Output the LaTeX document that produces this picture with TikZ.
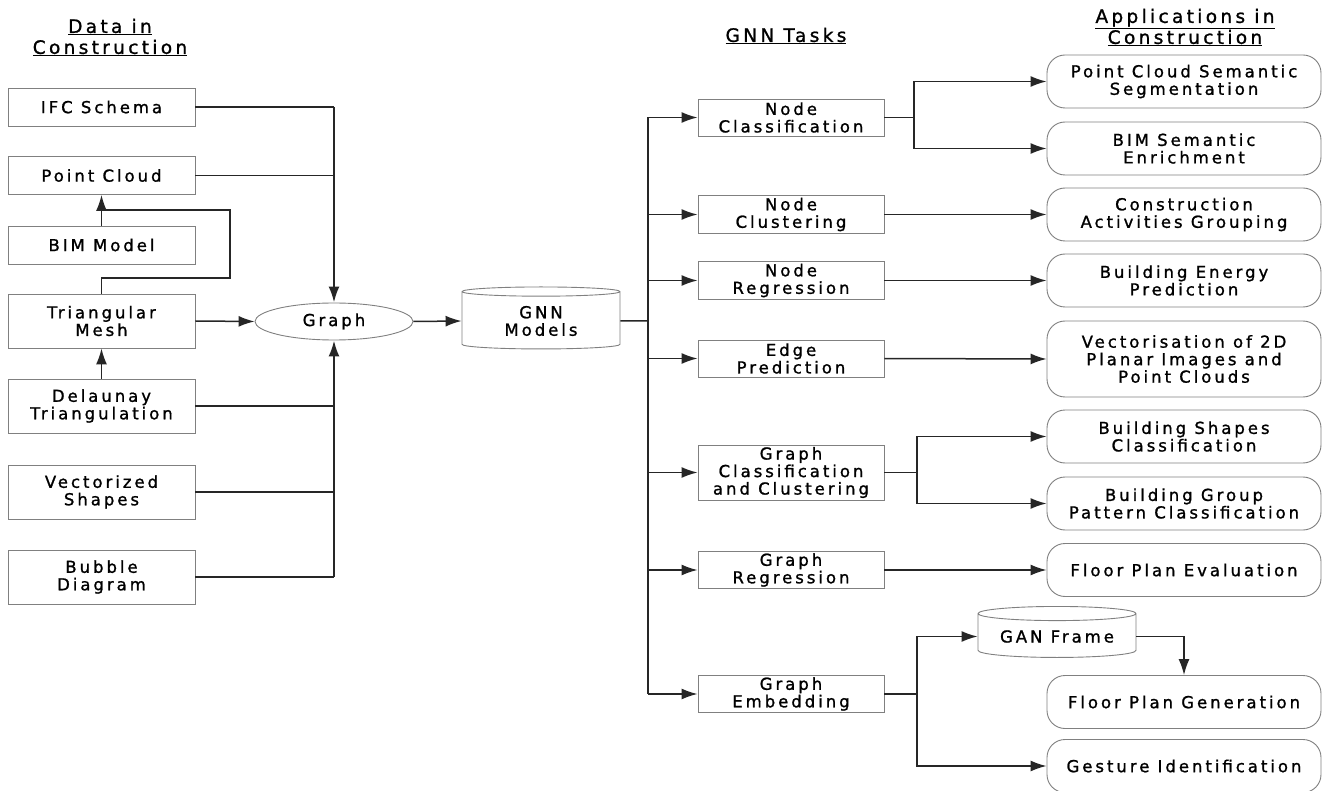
\documentclass[tikz,border=0pt]{standalone}
\usepackage{fontspec}
\setmainfont{DejaVu Sans}[LetterSpace=18,FakeBold=1.2]
\usetikzlibrary{arrows.meta}
\usetikzlibrary{shapes.geometric}

\tikzset{
    every node/.style={font=\fontsize{16.5}{17.5}\selectfont, align=center, inner sep=2pt},
    databox/.style={draw=black!50, line width=0.9pt, minimum width=187pt, minimum height=38pt},
    databoxtall/.style={databox, minimum height=54pt},
    taskbox/.style={draw=black!50, line width=0.9pt, minimum width=186pt, minimum height=37pt},
    appbox/.style={draw=black!50, line width=0.9pt, rounded corners=18pt, minimum width=274pt, minimum height=53pt},
    dbnode/.style={draw=black!50, line width=0.9pt, cylinder, shape border rotate=90, aspect=0.12, minimum width=158pt},
    graphnode/.style={draw=black!50, line width=0.9pt, ellipse, minimum width=158pt, minimum height=37pt, inner sep=0pt},
    titletext/.style={font=\fontsize{18.5}{21}\selectfont},
    link/.style={draw=black!85, line width=1.5pt},
    buslink/.style={link, line width=2.2pt},
    arrowlink/.style={link, -{Latex[length=16pt,width=11pt]}}
}

\begin{document}
\begin{tikzpicture}[x=1pt,y=-1pt]
    \useasboundingbox[fill=white] (0,0) rectangle (1325,791);

    % Column titles
    \node[titletext] (datatitle) at (110,37.5) {\underline{Data in}\\\underline{Construction}};
    \node[titletext] (tasktitle) at (786,36) {\underline{GNN Tasks}};
    \node[titletext] (apptitle)  at (1185,27.5) {\underline{Applications in}\\\underline{Construction}};

    % Data in construction
    \node[databox] (ifc) at (101.5,107) {IFC Schema};
    \node[databox] (pc)  at (101.5,175.5) {Point Cloud};
    \node[databox] (bim) at (101.5,245) {BIM Model};
    \node[databoxtall] (mesh) at (101.5,321) {Triangular\\Mesh};
    \node[databoxtall] (del)  at (101.5,406) {Delaunay\\Triangulation};
    \node[databoxtall] (vec)  at (101.5,492) {Vectorized\\Shapes};
    \node[databoxtall] (bub)  at (101.5,577) {Bubble\\Diagram};

    % Graph and models
    \node[graphnode] (graph) at (334,321.5) {Graph};
    \node[dbnode, minimum height=62pt] (gnn) at (541,321) {GNN\\Models};

    % GNN tasks
    \node[taskbox] (nc)  at (791,117.5) {Node\\Classification};
    \node[taskbox] (ncl) at (791,214.5) {Node\\Clustering};
    \node[taskbox] (nr)  at (791,280.5) {Node\\Regression};
    \node[taskbox] (ep)  at (791,358.5) {Edge\\Prediction};
    \node[taskbox, minimum height=53pt] (gcc) at (791,472.5) {Graph\\Classification\\and Clustering};
    \node[taskbox] (gr)  at (791,570) {Graph\\Regression};
    \node[taskbox] (ge)  at (791,694) {Graph\\Embedding};

    % Applications in construction
    \node[appbox] (pcss) at (1184,81.5) {Point Cloud Semantic\\Segmentation};
    \node[appbox] (bse)  at (1184,148.5) {BIM Semantic\\Enrichment};
    \node[appbox] (cag)  at (1184,214.5) {Construction\\Activities Grouping};
    \node[appbox] (bep)  at (1184,280.5) {Building Energy\\Prediction};
    \node[appbox, minimum height=76pt] (vect) at (1184,359) {Vectorisation of 2D\\Planar Images and\\Point Clouds};
    \node[appbox] (bsc)  at (1184,436.5) {Building Shapes\\Classification};
    \node[appbox] (bgpc) at (1184,503.5) {Building Group\\Pattern Classification};
    \node[appbox] (fpe)  at (1184,570) {Floor Plan Evaluation};
    \node[dbnode, minimum height=51pt] (gan) at (1057,636.5) {GAN Frame};
    \node[appbox] (fpg)  at (1184,702) {Floor Plan Generation};
    \node[appbox] (gi)   at (1184,766) {Gesture Identification};

    % Helper points
    \coordinate (meshloop) at (230,278);
    \coordinate (bimjoin)  at (101.5,210);
    \coordinate (tbus)     at (648,321);
    \coordinate (ncsplit)  at (914,117.5);
    \coordinate (gccsplit) at (917,472.5);
    \coordinate (gesplit)  at (917,694);

    % Data to graph
    \draw[link] (ifc.east) -- (ifc.east -| graph.north);
    \draw[buslink, -{Latex[length=16pt,width=11pt]}] (ifc.east -| graph.north) -- (graph.north);
    \draw[link] (pc.east) -- (pc.east -| graph.north);
    \draw[arrowlink] (bim.north) -- (pc.south);
    \draw[link] (mesh.north) |- (meshloop) |- (bimjoin);
    \draw[arrowlink] (del.north) -- (mesh.south);
    \draw[arrowlink] (mesh.east) -- (graph.west);
    \draw[link] (del.east) -- (del.east -| graph.south);
    \draw[link] (vec.east) -- (vec.east -| graph.south);
    \draw[link] (bub.east) -- (bub.east -| graph.south);
    \draw[buslink, -{Latex[length=16pt,width=11pt]}] (bub.east -| graph.south) -- (graph.south);

    % Graph to models to tasks
    \draw[arrowlink] (graph.east) -- (gnn.west);
    \draw[link] (gnn.east) -- (tbus);
    \draw[buslink] (nc.west -| tbus) -- (ge.west -| tbus);
    \foreach \task in {nc,ncl,nr,ep,gcc,gr,ge}
        \draw[arrowlink] (\task.west -| tbus) -- (\task.west);

    % Tasks to applications
    \draw[link] (nc.east) -- (ncsplit);
    \draw[arrowlink] (ncsplit) |- (pcss.west);
    \draw[arrowlink] (ncsplit) |- (bse.west);
    \draw[arrowlink] (ncl.east) -- (cag.west);
    \draw[arrowlink] (nr.east) -- (bep.west);
    \draw[arrowlink] (ep.east) -- (vect.west);
    \draw[link] (gcc.east) -- (gccsplit);
    \draw[arrowlink] (gccsplit) |- (bsc.west);
    \draw[arrowlink] (gccsplit) |- (bgpc.west);
    \draw[arrowlink] (gr.east) -- (fpe.west);
    \draw[link] (ge.east) -- (gesplit);
    \draw[arrowlink] (gesplit) |- (gan.west);
    \draw[arrowlink] (gesplit) |- (gi.west);
    \draw[arrowlink] (gan.east) -| (fpg.north);
\end{tikzpicture}
\end{document}
